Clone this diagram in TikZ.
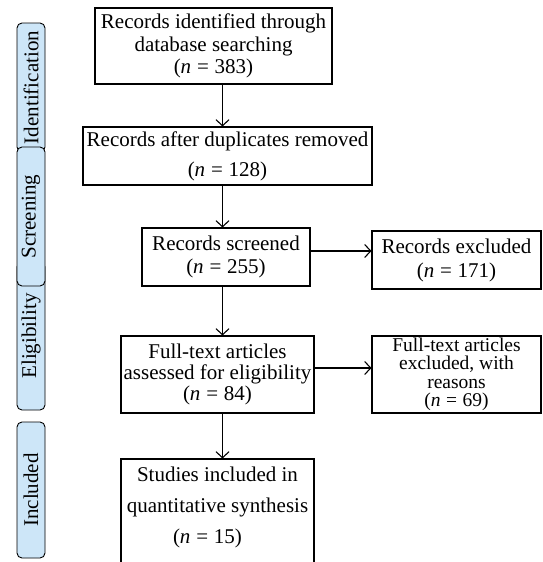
\documentclass[tikz,border=0pt]{standalone}
\usepackage{fontspec}
\setmainfont{Liberation Serif}
\usetikzlibrary{arrows.meta}
\definecolor{tabblue}{RGB}{205,230,248}
\newcommand{\fsz}[2]{\fontsize{#1}{#2}\selectfont}
\newcommand{\nn}[1]{(\textit{n}\;=\;#1)}
\begin{document}
\begin{tikzpicture}[x=1pt,y=-1pt,
  box/.style={draw, line width=1.1pt, inner sep=0pt, align=center},
  tab/.style={draw, line width=0.9pt, fill=tabblue, rounded corners=5pt, inner sep=0pt,
    rotate=90, minimum height=28pt, font=\fsz{21}{24}},
  arr/.style={line width=1.1pt, -{Straight Barb[length=6pt,width=13pt,line width=1.1pt]}}]
\path[use as bounding box, clip] (0,0) rectangle (543,562);
\fill[white] (0,0) rectangle (543,562);
% side tabs
\node[tab, minimum width=129pt] (tid) at (31,87.5) {Identification};
\node[tab, minimum width=148pt] (tel) at (31,336) {Eligibility};
\node[tab, minimum width=139pt] (tsc) at (31,216.5) {Screening};
\node[tab, minimum width=136pt] (tin) at (31,490) {Included};
% boxes
\node[box, minimum width=237pt, minimum height=76pt, font=\fsz{21}{22.5}] (b1) at (213.5,46)
  {Records identified through\\database searching\\\nn{383}};
\node[box, minimum width=289pt, minimum height=58pt, font=\fsz{21}{30}] (b2) at (227.5,156)
  {Records after duplicates removed\\\nn{128}};
\node[box, minimum width=168pt, minimum height=58pt, font=\fsz{21}{23}] (b3) at (226,257)
  {Records screened\\\nn{255}};
\node[box, minimum width=169pt, minimum height=58pt, font=\fsz{21}{24}] (b4) at (456.5,260)
  {Records excluded\\\nn{171}};
\node[box, minimum width=193pt, minimum height=77pt, font=\fsz{21}{21}] (b5) at (217.5,374.5)
  {Full-text articles\\assessed for eligibility\\\nn{84}};
\node[box, minimum width=169pt, minimum height=77pt, font=\fsz{19.5}{18.5}] (b6) at (456.5,374.5)
  {Full-text articles\\excluded, with\\reasons\\\nn{69}};
\node[box, minimum width=193pt, minimum height=123pt, font=\fsz{21}{31}] (b7) at (217.5,520.5)
  {Studies included in\\quantitative synthesis\\\nn{15}\hspace{20pt}\mbox{}\\\mbox{}};
% connectors
\coordinate (spine) at (222.5,0);
\draw[arr] (b1.south -| spine) -- (b2.north -| spine);
\draw[arr] (b2.south -| spine) -- (b3.north -| spine);
\draw[arr] (b3.south -| spine) -- (b5.north -| spine);
\draw[arr] (b5.south -| spine) -- (b7.north -| spine);
\draw[arr] ([yshift=6pt]b3.east) -- ([yshift=6pt]b3.east -| b4.west);
\draw[arr] ([yshift=6.5pt]b5.east) -- ([yshift=6.5pt]b5.east -| b6.west);
\end{tikzpicture}
\end{document}
